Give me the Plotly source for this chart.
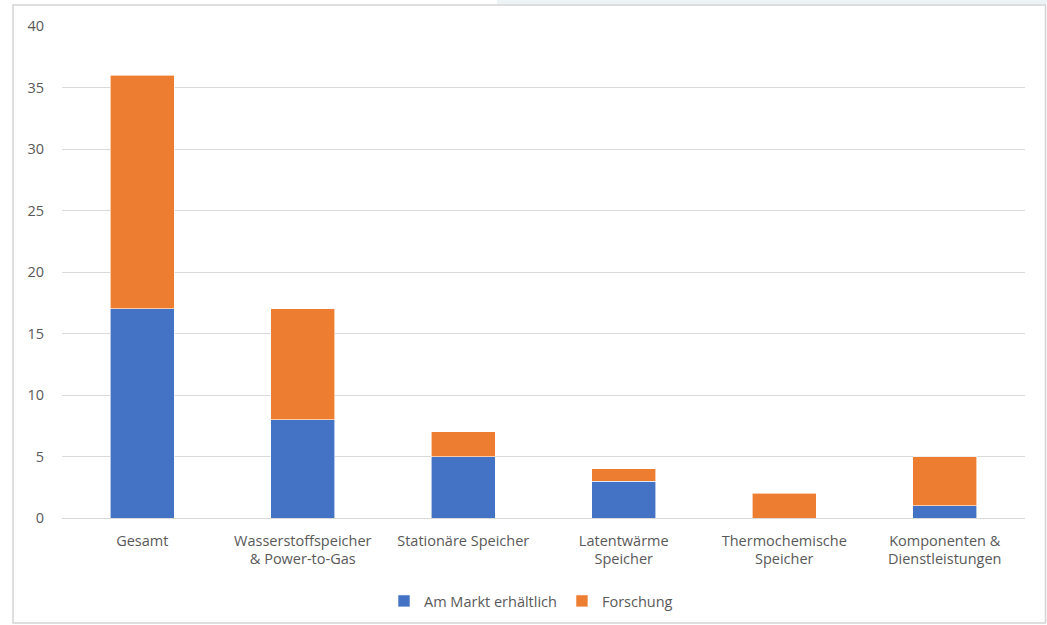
import plotly.graph_objects as go

# Speichertechnologien: Anzahl der Lösungen nach Kategorie
categories = [
    "Gesamt",
    "Wasserstoffspeicher<br>& Power-to-Gas",
    "Stationäre Speicher",
    "Latentwärme<br>Speicher",
    "Thermochemische<br>Speicher",
    "Komponenten &<br>Dienstleistungen",
]
am_markt = [17, 8, 5, 3, 0, 1]
forschung = [19, 9, 2, 1, 2, 4]
y_ticks = [0, 5, 10, 15, 20, 25, 30, 35, 40]

W, H = 1047, 625
L, R, T, B = 62, 22, 26, 107
FS = 14.5


def px_x(p):
    return (p - L) / (W - L - R)


def px_y(p):
    return (H - B - p) / (H - T - B)


fig = go.Figure()
fig.add_trace(go.Bar(
    x=categories, y=am_markt, name="Am Markt erhältlich",
    marker=dict(color="#4472C4", line=dict(color="white", width=0.6)),
))
fig.add_trace(go.Bar(
    x=categories, y=forschung, name="Forschung",
    marker=dict(color="#ED7D31", line=dict(color="white", width=0.6)),
))

fig.update_layout(
    width=W, height=H,
    barmode="stack", bargap=0.6,
    margin=dict(l=L, r=R, t=T, b=B, autoexpand=False),
    paper_bgcolor="white", plot_bgcolor="white",
    font=dict(family="Open Sans, Liberation Sans, sans-serif", size=FS, color="#595959"),
    xaxis=dict(showgrid=False, showline=False, ticks="", automargin=False,
               ticklabelstandoff=12, tickfont=dict(size=FS)),
    yaxis=dict(range=[0, 40], tickvals=y_ticks, showgrid=True, gridcolor="#d9d9d9",
               gridwidth=1, zeroline=True, zerolinecolor="#d9d9d9", zerolinewidth=1,
               ticks="", automargin=False, ticklabelstandoff=17, tickfont=dict(size=FS)),
    legend=dict(orientation="h", x=px_x(531), xanchor="center", y=px_y(585), yanchor="top",
                font=dict(size=FS), itemwidth=30, traceorder="normal"),
    showlegend=True,
)

# Rahmen um das Diagramm und heller Streifen oben rechts
fig.add_shape(type="rect", xref="paper", yref="paper",
              x0=px_x(497), x1=px_x(W), y0=px_y(0), y1=px_y(4.5),
              fillcolor="#eef3f5", line=dict(width=0), layer="below")
fig.add_shape(type="rect", xref="paper", yref="paper",
              x0=px_x(13), x1=px_x(1045.5), y0=px_y(623), y1=px_y(5),
              line=dict(color="#d4d4d4", width=1.5), fillcolor="rgba(0,0,0,0)")

fig.write_html("out.html")
